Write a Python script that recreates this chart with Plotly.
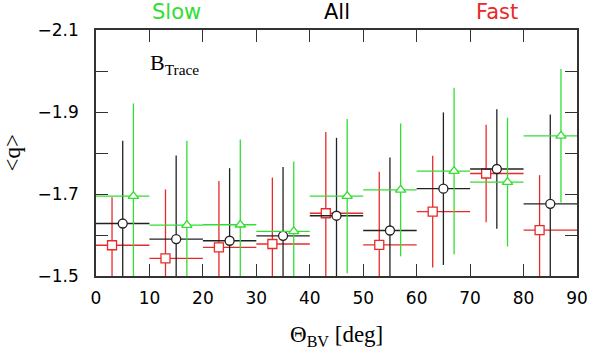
import plotly.graph_objects as go

# bin centres (deg) and bin edges
bin_lo = [0, 10, 20, 30, 40, 50, 60, 70, 80]
bin_hi = [10, 20, 30, 40, 50, 60, 70, 80, 90]

# All (black circles) at bin centre
x_all = [5, 15, 25, 35, 45, 55, 65, 75, 85]
q_all = [-1.628, -1.590, -1.586, -1.598, -1.647, -1.611, -1.713, -1.761, -1.676]
e_all = [0.202, 0.204, 0.177, 0.168, 0.190, 0.178, 0.186, 0.146, 0.218]

# Slow (green triangles), shifted +2
x_slow = [7, 17, 27, 37, 47, 57, 67, 77, 87]
q_slow = [-1.695, -1.624, -1.625, -1.609, -1.695, -1.710, -1.756, -1.729, -1.842]
e_slow = [0.226, 0.206, 0.208, 0.170, 0.188, 0.162, 0.203, 0.157, 0.163]

# Fast (red squares), shifted -2
x_fast = [3, 13, 23, 33, 43, 53, 63, 73, 83]
q_fast = [-1.575, -1.543, -1.570, -1.578, -1.653, -1.576, -1.657, -1.750, -1.612]
e_fast = [0.117, 0.168, 0.162, 0.162, 0.198, 0.178, 0.136, 0.119, 0.134]

black = "#222222"
green = "#33dd33"
red = "#e82a2a"


def series(x, q, e, color, symbol, size):
    return go.Scatter(
        x=x, y=q, mode="markers",
        marker=dict(symbol=symbol, size=size, color="white",
                    line=dict(color=color, width=1.3)),
        error_x=dict(type="data", symmetric=False,
                     array=[h - xi for h, xi in zip(bin_hi, x)],
                     arrayminus=[xi - l for l, xi in zip(bin_lo, x)],
                     color=color, thickness=1.3, width=0),
        error_y=dict(type="data", array=e, color=color, thickness=1.3, width=0),
        showlegend=False, cliponaxis=True,
    )


data = [series(x_fast, q_fast, e_fast, red, "square", 9),
        series(x_all, q_all, e_all, black, "circle", 9),
        series(x_slow, q_slow, e_slow, green, "triangle-up", 9)]

axis_common = dict(showline=True, linecolor="#333333", linewidth=1.5, mirror="ticks",
                   ticks="inside", ticklen=12, tickwidth=1.3, tickcolor="#333333",
                   showgrid=False, zeroline=False,
                   tickfont=dict(family="DejaVu Sans", size=17, color="black"))

layout = go.Layout(
    width=600, height=354,
    margin=dict(l=96, r=14, t=30, b=78),
    paper_bgcolor="white", plot_bgcolor="white",
    xaxis=dict(range=[0, 90], tick0=0, dtick=10, ticklabelstandoff=6, **axis_common),
    yaxis=dict(range=[-1.5, -2.1], tick0=-2.1, dtick=0.2, tickformat=".1f",
               ticklabelstandoff=12,
               minor=dict(tick0=-2.1, dtick=0.1, ticks="inside", ticklen=12,
                          tickwidth=1.3, tickcolor="#333333", showgrid=False),
               **axis_common),
    annotations=[
        dict(text="Slow", x=15, xref="x", y=1.073, yref="paper", yanchor="middle",
             showarrow=False, font=dict(family="DejaVu Sans", size=21, color=green)),
        dict(text="All", x=45, xref="x", y=1.073, yref="paper", yanchor="middle",
             showarrow=False, font=dict(family="DejaVu Sans", size=21, color="black")),
        dict(text="Fast", x=75, xref="x", y=1.073, yref="paper", yanchor="middle",
             showarrow=False, font=dict(family="DejaVu Sans", size=21, color=red)),
        dict(text="B<sub>Trace</sub>", x=0.108, xref="paper", y=0.86, yref="paper",
             xanchor="left", yanchor="middle", showarrow=False,
             font=dict(family="Liberation Serif", size=22, color="black")),
        dict(text="\u0398<sub>BV</sub> [deg]", x=0.5, xref="paper", y=-0.245, yref="paper",
             xanchor="center", yanchor="middle", showarrow=False,
             font=dict(family="Liberation Serif", size=23, color="black")),
        dict(text="&lt;q&gt;", x=-0.1755, xref="paper", y=0.5, yref="paper",
             textangle=-90, xanchor="center", yanchor="middle", showarrow=False,
             font=dict(family="Liberation Serif", size=23, color="black")),
    ],
)

fig = go.Figure(data=data, layout=layout)
# drop the page's default body margin so the figure fills the window
fig.write_html("out.html", config={"displayModeBar": False},
               post_script="document.body.style.margin='0';")
